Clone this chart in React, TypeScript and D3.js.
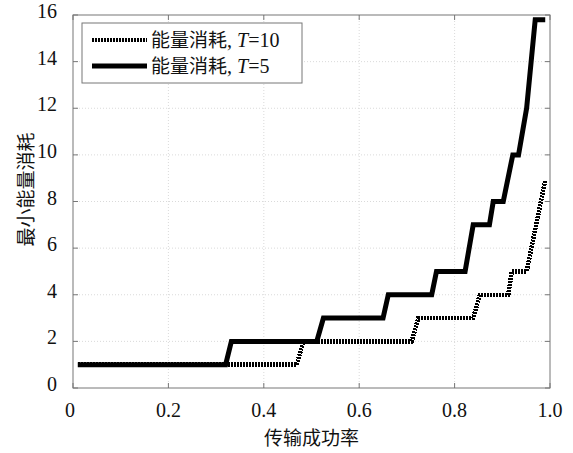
import * as d3 from 'd3';

const W = 573;
const H = 453;
const M = { left: 73, right: 23, top: 15, bottom: 65 };

// T=5 (solid)
const t5X = [0.01, 0.32, 0.332, 0.511, 0.525, 0.65, 0.661, 0.752, 0.762, 0.822, 0.839, 0.873, 0.881, 0.902, 0.922, 0.934, 0.951, 0.969, 0.99];
const t5Y = [1, 1, 2, 2, 3, 3, 4, 4, 5, 5, 7, 7, 8, 8, 10, 10, 12, 15.8, 15.8];

// T=10 (dotted)
const t10X = [0.01, 0.469, 0.483, 0.71, 0.724, 0.839, 0.853, 0.9125, 0.92, 0.951, 0.99];
const t10Y = [1, 1, 2, 2, 3, 3, 4, 4, 5, 5, 8.9];

const xTicks = [0, 0.2, 0.4, 0.6, 0.8, 1.0];
const xTickLabels = ['0', '0.2', '0.4', '0.6', '0.8', '1.0'];
const yTicks = [0, 2, 4, 6, 8, 10, 12, 14, 16];

const serif = "'Liberation Serif', 'Times New Roman', serif";
const cjk = "'Noto Sans CJK SC', sans-serif";

export default function App() {
  const x = d3.scaleLinear().domain([0, 1]).range([M.left, W - M.right]);
  const y = d3.scaleLinear().domain([0, 16]).range([H - M.bottom, M.top]);

  const line = d3.line<[number, number]>().x(d => x(d[0])).y(d => y(d[1]));
  const t5 = t5X.map((v, i) => [v, t5Y[i]] as [number, number]);
  const t10 = t10X.map((v, i) => [v, t10Y[i]] as [number, number]);

  const [x0, x1] = x.range();
  const [yb, yt] = y.range();

  return (
    <svg width={W} height={H} style={{ position: 'absolute', left: 0, top: 0, background: '#fff' }}>
      {/* grid */}
      {xTicks.slice(1, -1).map(t => (
        <line key={'gx' + t} x1={x(t)} x2={x(t)} y1={yt} y2={yb} stroke="#d0d0d0" strokeWidth={0.8} strokeDasharray="1,2" />
      ))}
      {yTicks.slice(1, -1).map(t => (
        <line key={'gy' + t} x1={x0} x2={x1} y1={y(t)} y2={y(t)} stroke="#d0d0d0" strokeWidth={0.8} strokeDasharray="1,2" />
      ))}

      {/* ticks inside, all four sides */}
      {xTicks.map(t => (
        <g key={'tx' + t}>
          <line x1={x(t)} x2={x(t)} y1={yb} y2={yb - 5} stroke="#777" />
          <line x1={x(t)} x2={x(t)} y1={yt} y2={yt + 5} stroke="#777" />
        </g>
      ))}
      {yTicks.map(t => (
        <g key={'ty' + t}>
          <line x1={x0} x2={x0 + 5} y1={y(t)} y2={y(t)} stroke="#777" />
          <line x1={x1} x2={x1 - 5} y1={y(t)} y2={y(t)} stroke="#777" />
        </g>
      ))}

      <rect x={x0} y={yt} width={x1 - x0} height={yb - yt} fill="none" stroke="#777" strokeWidth={1} />

      {/* series */}
      <path d={line(t10) ?? ''} fill="none" stroke="#000" strokeWidth={4.5} strokeDasharray="2,1" shapeRendering="crispEdges" />
      <path d={line(t5) ?? ''} fill="none" stroke="#000" strokeWidth={5} strokeLinejoin="miter" />

      {/* tick labels */}
      {xTicks.map((t, i) => (
        <text key={'lx' + t} x={x(t) - (i === 0 ? 3 : 0)} y={yb + 29} textAnchor="middle" style={{ fontFamily: serif, fontSize: 20 }} fill="#111">
          {xTickLabels[i]}
        </text>
      ))}
      {yTicks.map(t => (
        <text key={'ly' + t} x={x0 - 16} y={y(t) + 3} textAnchor="end" style={{ fontFamily: serif, fontSize: 20 }} fill="#111">
          {t}
        </text>
      ))}

      {/* axis titles */}
      <text x={(x0 + x1) / 2} y={H - 8} textAnchor="middle" style={{ fontFamily: cjk, fontSize: 19 }} fill="#111">
        传输成功率
      </text>
      <text transform={`translate(33,${(yt + yb) / 2 - 12}) rotate(-90)`} textAnchor="middle" style={{ fontFamily: cjk, fontSize: 19 }} fill="#111">
        最小能量消耗
      </text>

      {/* legend */}
      <rect x={82} y={23} width={220} height={60} fill="#fff" stroke="#777" strokeWidth={1} />
      <line x1={92} x2={147} y1={40} y2={40} stroke="#000" strokeWidth={4.5} strokeDasharray="2,1" shapeRendering="crispEdges" />
      <line x1={92} x2={147} y1={66} y2={66} stroke="#000" strokeWidth={5} />
      <text x={151} y={47} style={{ fontFamily: serif, fontSize: 20 }} fill="#111">
        <tspan style={{ fontFamily: cjk, fontSize: 19 }}>能量消耗</tspan>
        <tspan>, </tspan>
        <tspan fontStyle="italic">T</tspan>
        <tspan>=10</tspan>
      </text>
      <text x={151} y={73} style={{ fontFamily: serif, fontSize: 20 }} fill="#111">
        <tspan style={{ fontFamily: cjk, fontSize: 19 }}>能量消耗</tspan>
        <tspan>, </tspan>
        <tspan fontStyle="italic">T</tspan>
        <tspan>=5</tspan>
      </text>
    </svg>
  );
}
